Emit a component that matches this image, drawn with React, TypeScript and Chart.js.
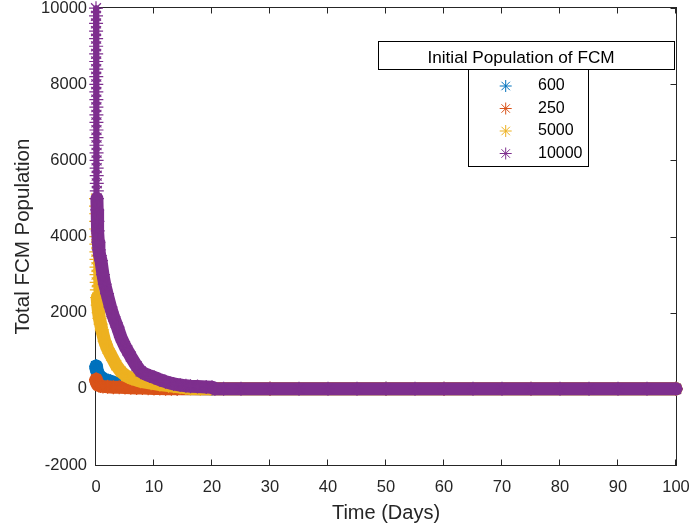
import React, { useEffect, useRef } from 'react';
import { Chart, registerables } from 'chart.js';

Chart.register(...registerables);

// ---- data: [time (days), total FCM population] ----
const series600: [number, number][] = [
  [0, 600], [0.03, 570], [0.06, 540], [0.1, 510], [0.15, 480], [0.25, 440], [0.4, 390],
  [0.6, 340], [0.9, 300], [1.3, 260], [1.8, 230], [2.5, 200], [3.5, 150], [5, 100],
  [7, 60], [10, 30], [14, 10], [20, 0], [50, 0], [100, 0],
];
const series250: [number, number][] = [
  [0, 250], [0.03, 220], [0.06, 195], [0.1, 170], [0.2, 140], [0.35, 110], [0.5, 90],
  [0.8, 75], [1.2, 65], [2, 55], [3, 45], [4, 40], [5, 35], [6, 30], [7, 25], [8, 20],
  [9, 15], [10, 10], [11, 8], [12, 5], [13, 3], [14, 0], [30, 0], [60, 0], [100, 0],
];
const series5000: [number, number][] = [
  [0, 5000], [0.01, 4800], [0.02, 4600], [0.03, 4400], [0.04, 4200], [0.05, 4000],
  [0.06, 3800], [0.07, 3600], [0.08, 3400], [0.09, 3200], [0.1, 3000], [0.12, 2800],
  [0.15, 2600], [0.2, 2400], [0.3, 2200], [0.45, 2000], [0.6, 1850], [0.8, 1700],
  [1, 1550], [1.5, 1250], [2, 1050], [2.6, 870], [3.5, 620], [4.3, 450], [5.2, 340],
  [6.2, 270], [7.7, 200], [9.5, 150], [11, 115], [12.5, 85], [13.4, 70], [14.5, 45],
  [15.5, 25], [16.3, 10], [18, 3], [19.7, 0], [30, 0], [50, 0], [75, 0], [100, 0],
];
const series10000: [number, number][] = [
  [0, 10000], [0.005, 9800], [0.01, 9600], [0.015, 9400], [0.02, 9200], [0.025, 9000],
  [0.03, 8800], [0.035, 8600], [0.04, 8400], [0.045, 8200], [0.05, 8000], [0.055, 7800],
  [0.06, 7600], [0.065, 7400], [0.07, 7200], [0.075, 7000], [0.08, 6800], [0.085, 6600],
  [0.09, 6400], [0.095, 6200], [0.1, 6000], [0.11, 5800], [0.12, 5600], [0.13, 5400],
  [0.14, 5200], [0.16, 5000], [0.2, 4700], [0.25, 4400], [0.3, 4150], [0.4, 3850],
  [0.5, 3650], [0.65, 3500], [0.86, 3370], [1.2, 3000], [1.5, 2750], [1.9, 2500],
  [2.5, 2150], [3, 1900], [3.7, 1620], [4.3, 1350], [5, 1120], [5.4, 1010], [6, 850],
  [7, 600], [7.7, 460], [8.5, 390], [9.3, 340], [10, 300], [11, 240], [12, 190],
  [13.4, 130], [14.5, 100], [15.5, 80], [16.3, 70], [17.5, 60], [19, 50], [20, 45],
  [20.5, 0], [22, 0], [25, 0], [30, 0], [35, 0], [40, 0], [45, 0], [50, 0], [55, 0],
  [60, 0], [65, 0], [70, 0], [75, 0], [80, 0], [85, 0], [90, 0], [95, 0], [100, 0],
];

const legendTitle = 'Initial Population of FCM';
const legendLabels = ['600', '250', '5000', '10000'];
const seriesColors = ['#0072BD', '#D95319', '#EDB120', '#7E2F8E'];
const xTitle = 'Time (Days)';
const yTitle = 'Total FCM Population';

const FONT = '"Liberation Sans", Arial, Helvetica, sans-serif';
const AXIS_COLOR = '#262626';
const BAND = 13;
const STACK = 6;

function drawStar(ctx: CanvasRenderingContext2D, x: number, y: number, r: number) {
  const d = r * Math.SQRT1_2;
  ctx.beginPath();
  ctx.moveTo(x - r, y); ctx.lineTo(x + r, y);
  ctx.moveTo(x, y - r); ctx.lineTo(x, y + r);
  ctx.moveTo(x - d, y - d); ctx.lineTo(x + d, y + d);
  ctx.moveTo(x - d, y + d); ctx.lineTo(x + d, y - d);
  ctx.stroke();
}

const matlabPlugin = {
  id: 'matlabAxes',
  beforeDatasetsDraw(chart: any) {
    const { ctx, chartArea: a, scales } = chart;
    ctx.save();
    ctx.strokeStyle = AXIS_COLOR;
    ctx.lineWidth = 1;
    const L = Math.round(a.left) - 0.5;
    const R = Math.round(a.right) + 0.5;
    const T = Math.round(a.top) - 0.5;
    const B = Math.round(a.bottom) + 0.5;
    ctx.strokeRect(L, T, R - L, B - T);
    const tl = 6;
    ctx.beginPath();
    scales.x.ticks.forEach((t: any) => {
      const px = Math.round(scales.x.getPixelForValue(t.value)) - 0.5;
      ctx.moveTo(px, B); ctx.lineTo(px, B - tl);
      ctx.moveTo(px, T); ctx.lineTo(px, T + tl);
    });
    scales.y.ticks.forEach((t: any) => {
      const py = Math.round(scales.y.getPixelForValue(t.value)) + 0.5;
      ctx.moveTo(L, py); ctx.lineTo(L + tl, py);
      ctx.moveTo(R, py); ctx.lineTo(R - tl, py);
    });
    ctx.stroke();
    ctx.restore();
  },
  afterDraw(chart: any) {
    const ctx: CanvasRenderingContext2D = chart.ctx;
    ctx.save();
    ctx.fillStyle = '#ffffff';
    ctx.fillRect(378.5, 41.5, 296, 28);
    ctx.fillRect(468.5, 69.5, 120, 97);
    ctx.strokeStyle = '#000000';
    ctx.lineWidth = 1;
    ctx.strokeRect(378.5, 41.5, 296, 28);
    ctx.strokeRect(468.5, 69.5, 120, 97);
    ctx.fillStyle = '#000000';
    ctx.textBaseline = 'middle';
    ctx.textAlign = 'center';
    ctx.font = `17.2px ${FONT}`;
    ctx.fillText(legendTitle, 521, 58);
    ctx.textAlign = 'left';
    ctx.font = `16px ${FONT}`;
    const rows = [86, 108.5, 131, 153.5];
    legendLabels.forEach((lab, i) => {
      ctx.strokeStyle = seriesColors[i];
      ctx.lineWidth = 1;
      drawStar(ctx, 505.7, rows[i], 6);
      ctx.fillStyle = '#000000';
      ctx.fillText(lab, 538, rows[i]);
    });
    ctx.restore();
  },
};

const allSeries = [series600, series250, series5000, series10000];
const thinAbove = [Infinity, Infinity, 2500, 5100];
const drawOrder = [3, 2, 1, 0];

export default function App() {
  const ref = useRef<HTMLCanvasElement | null>(null);

  useEffect(() => {
    document.body.style.margin = '0';
    const canvas = ref.current;
    if (!canvas) return;
    const datasets = allSeries.map((s, i) => ({
      label: legendLabels[i],
      data: s.map(([x, y]) => ({ x, y })),
      showLine: true,
      borderColor: seriesColors[i],
      backgroundColor: seriesColors[i],
      borderWidth: BAND,
      borderJoinStyle: 'round' as const,
      borderCapStyle: 'round' as const,
      tension: 0,
      pointStyle: 'star' as const,
      pointRadius: 7,
      pointBorderWidth: 1.2,
      pointBorderColor: seriesColors[i],
      pointBackgroundColor: seriesColors[i],
      clip: false as const,
      order: drawOrder[i],
      segment: {
        borderWidth: (c: any) => (c.p0.parsed.y > thinAbove[i] ? STACK : BAND),
      },
    }));

    const chart = new Chart(canvas, {
      type: 'scatter',
      data: { datasets },
      options: {
        responsive: false,
        maintainAspectRatio: false,
        animation: false,
        layout: { padding: { left: 0, right: 15, top: 7, bottom: 0 } },
        plugins: { legend: { display: false }, tooltip: { enabled: false } },
        scales: {
          x: {
            type: 'linear',
            min: 0,
            max: 100,
            grid: { display: false, drawTicks: false },
            border: { display: false },
            ticks: {
              stepSize: 10,
              color: AXIS_COLOR,
              font: { size: 16.5, family: FONT },
              padding: 12.5,
              maxRotation: 0,
              autoSkip: false,
              callback: (v: any) => String(v),
            },
            title: {
              display: true,
              text: xTitle,
              color: AXIS_COLOR,
              font: { size: 20, family: FONT },
              padding: { top: 0, bottom: 6 },
            },
            afterFit: (s: any) => {
              s.height = 66;
              s.paddingLeft = 0;
              s.paddingRight = 0;
            },
          },
          y: {
            type: 'linear',
            min: -2000,
            max: 10000,
            grid: { display: false, drawTicks: false },
            border: { display: false },
            ticks: {
              stepSize: 2000,
              color: AXIS_COLOR,
              font: { size: 16.5, family: FONT },
              padding: 9,
              autoSkip: false,
              callback: (v: any) => String(v),
            },
            title: {
              display: true,
              text: yTitle,
              color: AXIS_COLOR,
              font: { size: 20.5, family: FONT },
              padding: { top: 11, bottom: 0 },
            },
            afterFit: (s: any) => {
              s.width = 96;
              s.paddingTop = 0;
              s.paddingBottom = 0;
            },
          },
        },
      },
      plugins: [matlabPlugin],
    });
    return () => chart.destroy();
  }, []);

  return (
    <div style={{ width: 691, height: 531, background: '#fff' }}>
      <canvas ref={ref} width={691} height={531} style={{ display: 'block' }} />
    </div>
  );
}
